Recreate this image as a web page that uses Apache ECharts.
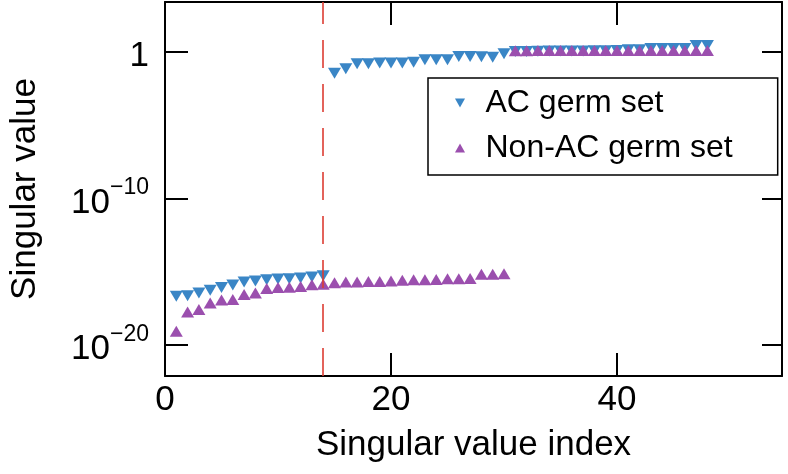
<!DOCTYPE html>
<html><head><meta charset="utf-8">
<script src="https://cdn.jsdelivr.net/npm/echarts@6/dist/echarts.min.js"></script>
<style>html,body{margin:0;padding:0;background:#fff}#c{width:788px;height:474px}</style>
</head><body><div id="c"></div>
<script>
// ---- data ----
const seriesNames = ['AC germ set', 'Non-AC germ set'];
const acValues = [
  2.1e-17, 2.3e-17, 3.5e-17, 5.4e-17, 8.3e-17, 1.26e-16, 2.0e-16, 2.3e-16, 2.9e-16, 3.2e-16,
  3.4e-16, 3.7e-16, 4.4e-16, 5.3e-16,
  0.037, 0.074, 0.16, 0.16, 0.18, 0.18, 0.18, 0.21, 0.30, 0.30,
  0.30, 0.51, 0.50, 0.48, 0.46, 0.8, 1.1, 1.1, 1.15, 1.2,
  1.2, 1.2, 1.2, 1.25, 1.25, 1.3, 1.5, 1.5, 1.8, 1.8,
  1.8, 1.8, 2.9, 2.9
];
const nonAcValues = [
  8.5e-20, 1.8e-18, 2.7e-18, 7.4e-18, 1.2e-17, 1.3e-17, 2.8e-17, 3.5e-17, 7.1e-17, 8.3e-17,
  8.6e-17, 1.0e-16, 1.3e-16, 1.4e-16, 1.8e-16, 2.0e-16, 2.0e-16, 2.2e-16, 2.2e-16, 2.3e-16,
  2.6e-16, 2.9e-16, 2.9e-16, 3.0e-16, 3.4e-16, 3.4e-16, 3.5e-16, 6.7e-16, 6.8e-16, 7.4e-16,
  1.25, 1.25, 1.3, 1.3, 1.3, 1.3, 1.3, 1.3, 1.3, 1.3,
  1.3, 1.3, 1.3, 1.3, 1.3, 1.3, 1.3, 1.3
];
const xTicks = [0, 20, 40];
const yTicks = [1e-20, 1e-10, 1];
const cutIndex = 14;
const xRange = [0, 54.6];
const yRange = [Math.pow(10, -22.12), Math.pow(10, 3.43)];

// ---- chart ----
const FONT = '"Liberation Sans", Arial, Helvetica, sans-serif';
const BLUE = '#3a86c6', PURPLE = '#9b4fae', RED = '#dc3d33';
const downTri = 'path://M0,0L10,0L5,9Z';
const upTri = 'path://M5,0L10,9L0,9Z';
const FS = 35;

function yLabel(v) {
  const e = Math.round(Math.log10(v));
  if (e === 0) return '{b|1}';
  return '{b|10}{s|' + (e < 0 ? '\u2212' : '') + Math.abs(e) + '}';
}

const axisLine = { show: true, onZero: false, lineStyle: { color: '#000', width: 2 } };
const tickStyle = { color: '#000', width: 2 };

const chart = echarts.init(document.getElementById('c'), null, { renderer: 'canvas' });
chart.setOption({
  animation: false,
  backgroundColor: '#fff',
  grid: { left: 163, right: 6, top: 2, bottom: 98, containLabel: false },
  legend: {
    orient: 'vertical', left: 428, top: 78,
    padding: [7, 45, 9, 27],
    itemGap: 9, itemWidth: 11, itemHeight: 9,
    borderColor: '#000', borderWidth: 1.5,
    textStyle: { fontSize: 32, fontFamily: FONT, color: '#000', lineHeight: 36, padding: [0, 0, 0, 15] },
    data: [
      { name: seriesNames[0], icon: downTri },
      { name: seriesNames[1], icon: upTri }
    ]
  },
  xAxis: [
    {
      type: 'value', min: xRange[0], max: xRange[1], position: 'bottom',
      axisLine: axisLine,
      axisTick: { show: true, inside: true, length: 23, lineStyle: tickStyle, customValues: xTicks },
      axisLabel: { customValues: xTicks, fontSize: FS, fontFamily: FONT, color: '#000', margin: 7 },
      splitLine: { show: false },
      name: 'Singular value index', nameLocation: 'middle', nameGap: 52,
      nameTextStyle: { fontSize: FS, fontFamily: FONT, color: '#000' }
    },
    {
      type: 'value', min: xRange[0], max: xRange[1], position: 'top',
      axisLine: axisLine,
      axisTick: { show: true, inside: true, length: 23, lineStyle: tickStyle, customValues: xTicks },
      axisLabel: { show: false },
      splitLine: { show: false }
    }
  ],
  yAxis: [
    {
      type: 'log', logBase: 10, min: yRange[0], max: yRange[1], position: 'left',
      axisLine: axisLine,
      axisTick: { show: true, inside: true, length: 23, lineStyle: tickStyle, customValues: yTicks },
      axisLabel: {
        customValues: yTicks, formatter: yLabel, margin: 16, color: '#000',
        rich: {
          b: { fontSize: FS, fontFamily: FONT, color: '#000', lineHeight: 44, verticalAlign: 'bottom' },
          s: { fontSize: 23, fontFamily: FONT, color: '#000', lineHeight: 24, verticalAlign: 'top' }
        }
      },
      splitLine: { show: false }, minorTick: { show: false },
      name: 'Singular value', nameLocation: 'middle', nameGap: 122,
      nameTextStyle: { fontSize: FS, fontFamily: FONT, color: '#000' }
    },
    {
      type: 'log', logBase: 10, min: yRange[0], max: yRange[1], position: 'right',
      axisLine: axisLine,
      axisTick: { show: true, inside: true, length: 20, lineStyle: tickStyle, customValues: yTicks },
      axisLabel: { show: false },
      splitLine: { show: false }
    }
  ],
  series: [
    {
      name: seriesNames[0], type: 'scatter', xAxisIndex: 0, yAxisIndex: 0,
      symbol: downTri, symbolSize: [13, 11],
      itemStyle: { color: BLUE, opacity: 1 },
      data: acValues.map((v, i) => [i + 1, v]),
      z: 3,
      markLine: {
        silent: true, symbol: ['none', 'none'], label: { show: false },
        lineStyle: { color: RED, type: [28, 16], width: 1.6 },
        data: [{ xAxis: cutIndex }]
      }
    },
    {
      name: seriesNames[1], type: 'scatter', xAxisIndex: 0, yAxisIndex: 0,
      symbol: upTri, symbolSize: [13, 11],
      itemStyle: { color: PURPLE, opacity: 1 },
      data: nonAcValues.map((v, i) => [i + 1, v]),
      z: 4
    }
  ]
});
</script>
</body></html>
